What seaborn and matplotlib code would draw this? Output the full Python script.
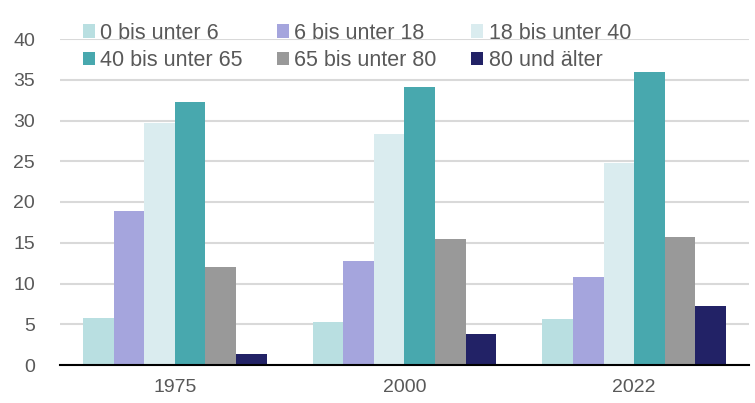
import numpy as np
import pandas as pd
import matplotlib.pyplot as plt
import seaborn as sns

# Anteil der Altersgruppen (%)
years = ["1975", "2000", "2022"]
groups = ["0 bis unter 6", "6 bis unter 18", "18 bis unter 40",
          "40 bis unter 65", "65 bis unter 80", "80 und älter"]
v1975 = [5.8, 18.9, 29.7, 32.3, 12.0, 1.4]
v2000 = [5.3, 12.8, 28.4, 34.1, 15.5, 3.8]
v2022 = [5.6, 10.8, 24.8, 36.0, 15.7, 7.2]
colors = ["#B9DFE1", "#A5A5DD", "#DAECEF", "#48A8AE", "#999999", "#222266"]

rows = []
for year, vals in zip(years, [v1975, v2000, v2022]):
    for g, v in zip(groups, vals):
        rows.append({"Jahr": year, "Gruppe": g, "Wert": v})
df = pd.DataFrame(rows)

sns.set_style("white")
plt.rcParams["font.family"] = ["Liberation Sans", "DejaVu Sans"]

fig = plt.figure(figsize=(7.55, 4.03), dpi=100)
ax = fig.add_axes([60/755, 1 - 365/403, 689/755, 326/403])

sns.barplot(data=df, x="Jahr", y="Wert", hue="Gruppe", palette=colors,
            hue_order=groups, order=years, width=0.8, saturation=1,
            edgecolor="none", ax=ax)

ax.set_ylim(0, 40)
ax.set_yticks(range(0, 41, 5))
ax.set_xlim(-0.5, 2.5)
ax.yaxis.grid(True, color="#d9d9d9", linewidth=1.5)
ax.set_axisbelow(True)
for s in ["top", "right", "left"]:
    ax.spines[s].set_visible(False)
ax.spines["bottom"].set_color("black")
ax.spines["bottom"].set_linewidth(1.5)
ax.set_xlabel("")
ax.set_ylabel("")
ax.tick_params(axis="both", length=0, labelsize=14, labelcolor="#595959")
ax.tick_params(axis="y", pad=18)
ax.tick_params(axis="x", pad=10)

handles, labels = ax.get_legend_handles_labels()
ax.get_legend().remove()
# reorder so rows read left to right (matplotlib fills columns first)
order = [0, 3, 1, 4, 2, 5]
leg = fig.legend([handles[i] for i in order], [labels[i] for i in order],
                 ncol=3, loc="upper left", bbox_to_anchor=(74/755, 1 - 14/403),
                 frameon=False, fontsize=15.5, handlelength=0.56, handleheight=0.56,
                 handletextpad=0.25, columnspacing=1.6, labelspacing=0.3,
                 borderaxespad=0)
for t in leg.get_texts():
    t.set_color("#595959")

fig.savefig("out.png", dpi=100)
